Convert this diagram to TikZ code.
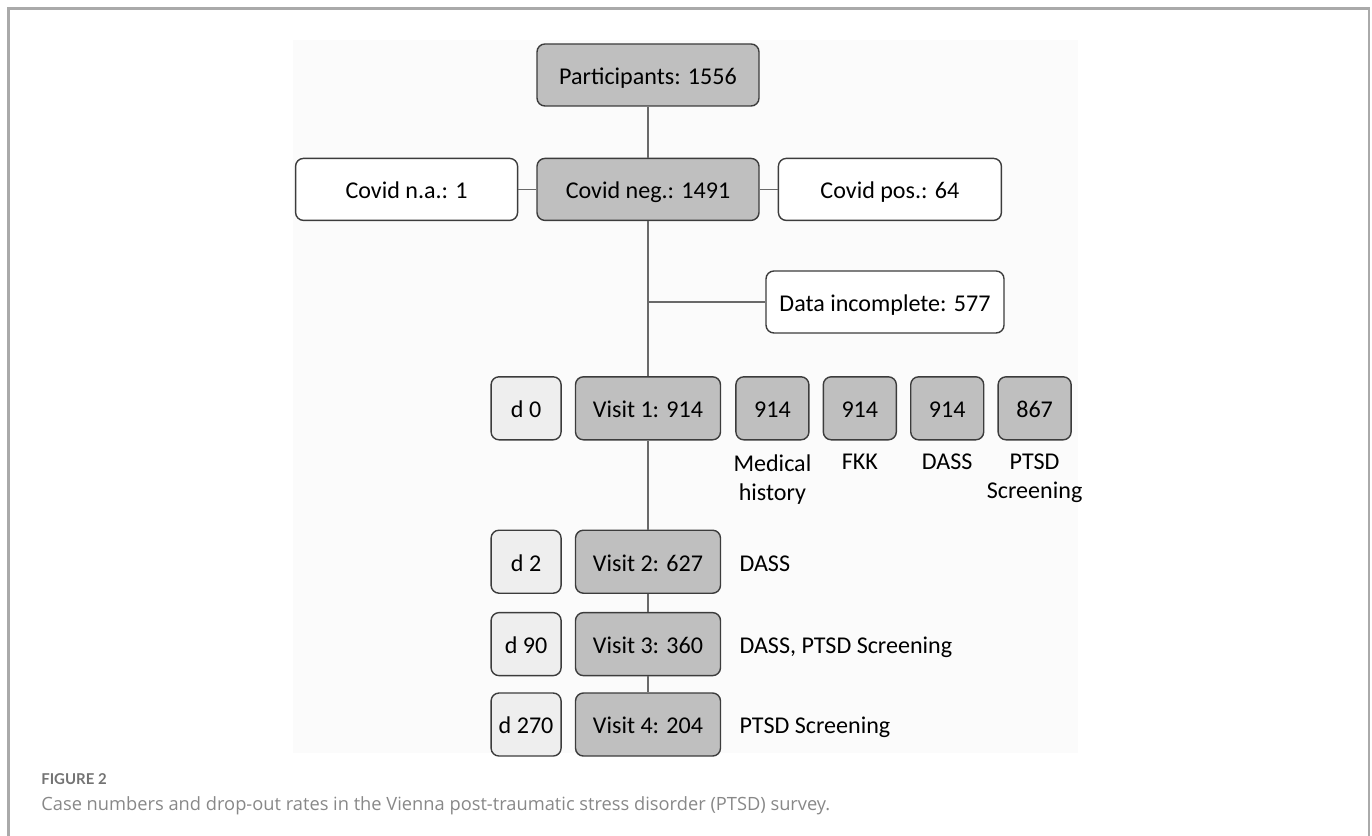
\documentclass[tikz,border=0pt]{standalone}
\usepackage{fontspec}
\setmainfont{Carlito}
\newfontfamily\capfont{Lato}
\newfontfamily\captextfont{Open Sans}
\usepackage{tikz}
\usetikzlibrary{positioning, calc}
\definecolor{boxgray}{RGB}{191,191,191}
\definecolor{daygray}{RGB}{238,238,238}
\definecolor{edgegray}{RGB}{60,60,60}
\definecolor{linkgray}{RGB}{105,105,105}
\definecolor{framegray}{RGB}{170,170,170}
\definecolor{capgray}{RGB}{115,115,115}

\begin{document}
\begin{tikzpicture}[every node/.style={font=\fontsize{13.7}{16.5}\selectfont},
        box/.style={draw=edgegray, line width=0.8pt, rounded corners=4.5pt, minimum height=1.24cm, inner sep=0pt, text height=10.6pt, text depth=0pt},
        gbox/.style={box, fill=boxgray},
        wbox/.style={box, fill=white},
        dbox/.style={box, fill=daygray, minimum width=1.40cm, minimum height=1.26cm},
        vbox/.style={gbox, minimum width=2.90cm, minimum height=1.26cm},
        nbox/.style={gbox, minimum width=1.46cm, minimum height=1.26cm},
        lnk/.style={draw=linkgray, line width=0.8pt},
        lbl/.style={inner sep=0pt, align=center},
        rlbl/.style={inner sep=0pt, text height=10.6pt, text depth=0pt}]
      \useasboundingbox (0,0) rectangle (27.44,-16.72);
      \fill[black!1.5] (5.86,-0.8) rectangle (21.56,-15.06);
      \draw[framegray, line width=1.2pt] (0.17,-16.9) -- (0.17,-0.17) -- (27.38,-0.17) -- (27.38,-16.9);

      \node[gbox, minimum width=4.44cm] at (12.96,-1.5) (part) {Participants: 1556};
      \node[gbox, minimum width=4.44cm, below=1.02cm of part] (neg) {Covid neg.: 1491};
      \node[wbox, minimum width=4.44cm, left=0.36cm of neg] (na) {Covid n.a.: 1};
      \node[wbox, minimum width=4.46cm, right=0.36cm of neg] (pos) {Covid pos.: 64};
      \node[wbox, minimum width=4.76cm] at (17.70,-6.04) (data) {Data incomplete: 577};
      \coordinate (br) at (neg.south |- data.west);

      % visits down the time line, days on the left
      \node[vbox, below=3.10cm of neg] (v1) {Visit 1: 914};
      \node[vbox, below=1.78cm of v1] (v2) {Visit 2: 627};
      \node[vbox, below=0.36cm of v2] (v3) {Visit 3: 360};
      \node[vbox, below=0.32cm of v3] (v4) {Visit 4: 204};
      \foreach \d/\v in {0/1, 2/2, 90/3, 270/4} {
        \node[dbox, left=0.26cm of v\v] (d\v) {d \d};
      }

      % questionnaires at visit 1
      \node[nbox, right=0.28cm of v1] (n1) {914};
      \foreach \v [count=\i from 2] in {914, 914, 867} {
        \pgfmathtruncatemacro\j{\i-1}
        \node[nbox, right=0.26cm of n\j] (n\i) {\v};
      }
      \foreach \t [count=\i] in {{Medical\\history}, FKK, DASS, {PTSD\\Screening}} {
        \node[lbl, below=0.27cm of n\i] (l\i) {\t};
      }
      \node[rlbl, right=0.36cm of v2] (t2) {DASS};
      \node[rlbl, right=0.36cm of v3] (t3) {DASS, PTSD Screening};
      \node[rlbl, right=0.36cm of v4] (t4) {PTSD Screening};

      \draw[lnk] (part) -- (neg);
      \draw[lnk] (na) -- (neg);
      \draw[lnk] (neg) -- (pos);
      \draw[lnk] (neg) -- (v1);
      \draw[lnk] (br) -- (data);
      \draw[lnk] (v1) -- (v2);
      \draw[lnk] (v2) -- (v3);
      \draw[lnk] (v3) -- (v4);

      \node[anchor=west, inner sep=0pt, text=capgray, font=\capfont\bfseries\fontsize{8.5}{10}\selectfont] at (0.82,-15.58) (fig) {FIGURE 2};
      \node[anchor=west, inner sep=0pt, text=capgray!85, font=\captextfont\fontsize{10.4}{12}\selectfont] at (0.82,-16.12) (cap) {Case numbers and drop-out rates in the Vienna post-traumatic stress disorder (PTSD) survey.};
    \end{tikzpicture}
\end{document}
